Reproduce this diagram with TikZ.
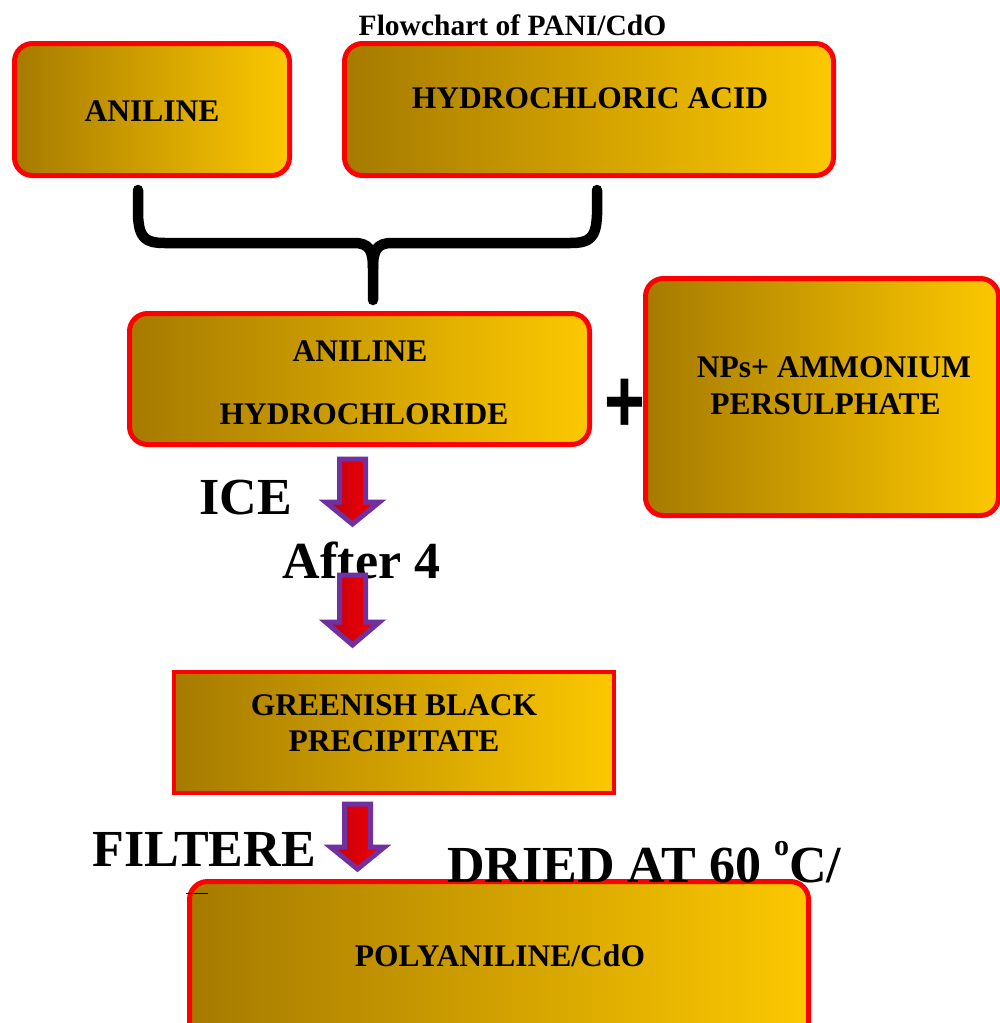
\documentclass[tikz,border=0pt]{standalone}
\usepackage{fontspec}
\setmainfont{Liberation Serif}
\setsansfont{Liberation Sans}
\definecolor{goldL}{RGB}{166,122,0}
\definecolor{goldR}{RGB}{252,200,0}
\definecolor{redL}{RGB}{192,0,16}
\definecolor{redR}{RGB}{245,0,0}
\definecolor{arrowpurple}{RGB}{112,48,160}
\newcommand\blockarr[5]{%
  \path[blockarrow] (#2-13,#3) -- (#2+13,#3) -- (#2+13,#4) -- (#2+27,#4) -- (#2,#5) -- (#2-27,#4) -- (#2-13,#4) -- cycle;
  \coordinate (#1) at (#2,#5);}
\begin{document}
\begin{tikzpicture}[x=1pt,y=-1pt,
  box/.style={draw=red, line width=5pt, rounded corners=18pt, left color=goldL, right color=goldR, inner sep=0pt},
  sqbox/.style={draw=red, line width=4pt, left color=goldL, right color=goldR, inner sep=0pt},
  lbl/.style={font=\fontsize{31.5}{36}\selectfont\bfseries, anchor=base, inner sep=0pt},
  big/.style={font=\fontsize{52}{60}\selectfont\bfseries, anchor=base, inner sep=0pt},
  blockarrow/.style={draw=arrowpurple, line width=5pt, line join=miter, left color=redL, right color=redR},
  bracestyle/.style={line width=10.5pt, line cap=round, line join=round}
]
\clip (0,0) rectangle (1000,1023);
\fill[white] (0,0) rectangle (1000,1023);

% title
\node[font=\fontsize{29.5}{33}\selectfont\bfseries, anchor=base, inner sep=0pt] (title) at (512.5,35) {Flowchart of PANI/CdO};

% boxes
\node[box, minimum width=275pt, minimum height=132pt] (anil) at (152,109.5) {};
\node[box, minimum width=489pt, minimum height=132pt] (hcl) at (589,109.5) {};
\node[box, minimum width=460pt, minimum height=131pt] (anhcl) at (359.5,379) {};
\node[box, minimum width=353pt, minimum height=237pt] (nps) at (822,397) {};
\node[sqbox, minimum width=440pt, minimum height=121pt] (green) at (394,732.5) {};
\node[box, minimum width=619pt, minimum height=188pt] (poly) at (499,975.5) {};

% box texts
\node[lbl] (tanil) at (152,121) {ANILINE};
\node[lbl] (thcl) at (590,108) {HYDROCHLORIC ACID};
\node[lbl] (tanhcl1) at (360,361) {ANILINE};
\node[lbl] (tanhcl2) at (364,424) {HYDROCHLORIDE};
\node[lbl] (tnps1) at (834,377) {NPs+ AMMONIUM};
\node[lbl] (tnps2) at (825.5,414) {PERSULPHATE};
\node[lbl] (tgreen1) at (394,715) {GREENISH BLACK};
\node[lbl] (tgreen2) at (394,751) {PRECIPITATE};
\node[lbl] (tpoly) at (500,966) {POLYANILINE/CdO};

% plus sign
\node[inner sep=0pt] (plus) at (625,406) {\scalebox{1}[1.3]{\fontsize{70}{70}\selectfont\sffamily\bfseries +}};

% brace joining aniline and hydrochloric acid
\draw[bracestyle] (138,190) -- (138,215) .. controls (139,238) and (145,243) .. (165,243)
  -- (354,243) .. controls (369,243) and (373,250) .. (373,268) -- (373,300);
\draw[bracestyle] (597,190) -- (597,215) .. controls (596,238) and (590,243) .. (570,243)
  -- (392,243) .. controls (377,243) and (373,250) .. (373,268);

% big labels
\node[big] (ice) at (246,514) {ICE};
\node[big] (after) at (361.5,578) {After 4};
\node[big] (filt) at (204,866) {FILTERE};
\node[big, anchor=base west] (dried) at (447,882) {DRIED AT 60 \raisebox{27pt}{\fontsize{30}{30}\selectfont o}C/};

% block arrows (drawn over the labels)
\blockarr{a1}{352.5}{459}{502}{524}
\blockarr{a2}{352.5}{575}{622}{645}
\blockarr{a3}{357.5}{804}{847}{869}

% small stray mark
\draw[line width=1pt] (186,893) -- (208,893);
\end{tikzpicture}
\end{document}
